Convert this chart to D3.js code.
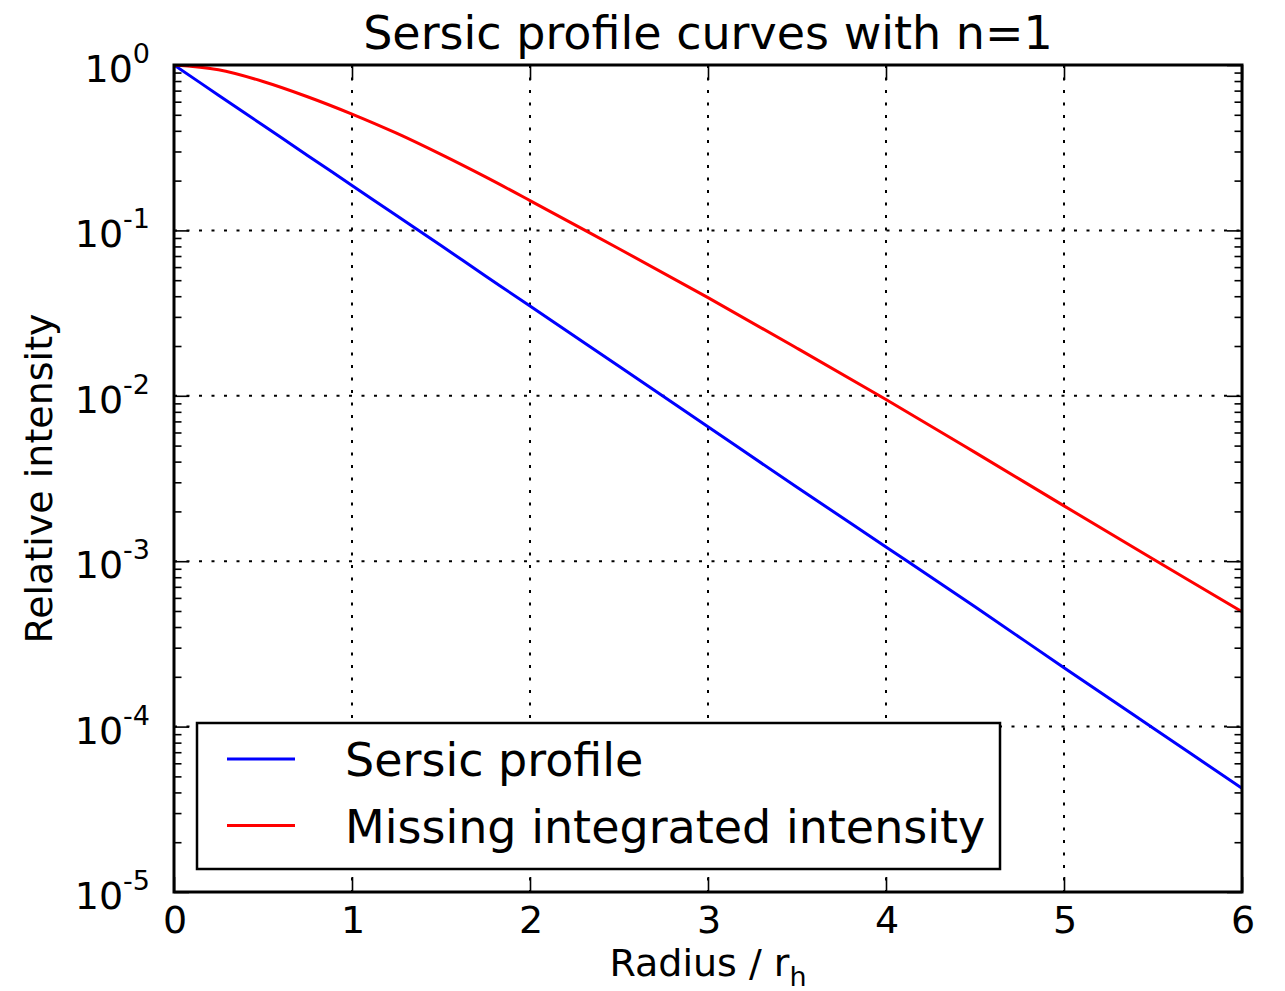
<!DOCTYPE html>
<html>
<head>
<meta charset="utf-8">
<script src="https://cdn.jsdelivr.net/npm/d3@7"></script>
<style>
  body { margin: 0; background: #fff; }
  svg { font-family: "DejaVu Sans", sans-serif; }
</style>
</head>
<body>
<div id="chart-area"></div>
<script>
// values
var radius = [0, 0.25, 0.5, 0.75, 1, 1.25, 1.5, 1.75, 2, 2.5, 3, 3.5, 4, 4.5, 5, 5.5, 6];
var sersic = [1, 0.657, 0.432, 0.284, 0.187, 0.123, 0.081, 0.053, 0.0349, 0.0151, 0.0065, 0.0028, 0.00122, 0.00053, 0.000227, 0.000098, 0.0000424];
var missing = [1, 0.935, 0.795, 0.643, 0.505, 0.387, 0.288, 0.2105, 0.1515, 0.0775, 0.0392, 0.0194, 0.0095, 0.00455, 0.00216, 0.00103, 0.000495];

var xTicks = [0, 1, 2, 3, 4, 5, 6];
var yExponents = [0, -1, -2, -3, -4, -5];
var seriesNames = ["Sersic profile", "Missing integrated intensity"];
var seriesColors = ["#0000ff", "#ff0000"];

var margin = { top: 65, right: 43, bottom: 99, left: 174 };
var width = 1068;
var height = 827;

var svg = d3.select("#chart-area")
  .append("svg")
  .attr("width", 1285)
  .attr("height", 991);

var g = svg.append("g")
  .attr("transform", `translate(${margin.left}, ${margin.top})`);

var x = d3.scaleLinear().domain([0, 6]).range([0, width]);
var y = d3.scaleLog().domain([1e-5, 1]).range([height, 0]);

var majorY = yExponents.map((e) => { return Math.pow(10, e); });
var minorY = y.ticks().filter((d) => {
  var l = Math.log10(d);
  return Math.abs(l - Math.round(l)) > 1e-6;
});

g.append("defs").append("clipPath")
  .attr("id", "plot-clip")
  .append("rect")
  .attr("width", width)
  .attr("height", height);

// grid
g.selectAll(".xgrid")
  .data(xTicks.slice(1, -1))
  .enter().append("line")
  .attr("class", "xgrid")
  .attr("x1", (d) => { return x(d); })
  .attr("x2", (d) => { return x(d); })
  .attr("y1", 0)
  .attr("y2", height)
  .attr("stroke", "#000")
  .attr("stroke-width", 2)
  .attr("stroke-dasharray", "3,9.5");

g.selectAll(".ygrid")
  .data(majorY.slice(1, -1))
  .enter().append("line")
  .attr("class", "ygrid")
  .attr("x1", 0)
  .attr("x2", width)
  .attr("y1", (d) => { return y(d); })
  .attr("y2", (d) => { return y(d); })
  .attr("stroke", "#000")
  .attr("stroke-width", 2)
  .attr("stroke-dasharray", "3,9.5");

// curves
var line = d3.line()
  .x((d) => { return x(d[0]); })
  .y((d) => { return y(d[1]); })
  .curve(d3.curveCatmullRom.alpha(0.5));

[sersic, missing].forEach((vals, i) => {
  g.append("path")
    .datum(radius.map((r, j) => { return [r, vals[j]]; }))
    .attr("clip-path", "url(#plot-clip)")
    .attr("fill", "none")
    .attr("stroke", seriesColors[i])
    .attr("stroke-width", 3)
    .attr("d", line);
});

// ticks, pointing inwards on all four sides
function styleAxis(sel) {
  sel.select(".domain").remove();
  sel.selectAll(".tick line").attr("stroke", "#000").attr("stroke-width", 1.6);
  sel.selectAll(".tick text").remove();
}

g.append("g").attr("transform", `translate(0, ${height})`)
  .call(d3.axisBottom(x).tickValues(xTicks).tickSize(-15)).call(styleAxis);
g.append("g")
  .call(d3.axisTop(x).tickValues(xTicks).tickSize(-15)).call(styleAxis);
g.append("g")
  .call(d3.axisLeft(y).tickValues(majorY).tickSize(-15)).call(styleAxis);
g.append("g")
  .call(d3.axisLeft(y).tickValues(minorY).tickSize(-7.5)).call(styleAxis);
g.append("g").attr("transform", `translate(${width}, 0)`)
  .call(d3.axisRight(y).tickValues(majorY).tickSize(-15)).call(styleAxis);
g.append("g").attr("transform", `translate(${width}, 0)`)
  .call(d3.axisRight(y).tickValues(minorY).tickSize(-7.5)).call(styleAxis);

// frame
g.append("rect")
  .attr("width", width)
  .attr("height", height)
  .attr("fill", "none")
  .attr("stroke", "#000")
  .attr("stroke-width", 3);

// tick labels
g.selectAll(".xlabel")
  .data(xTicks)
  .enter().append("text")
  .attr("class", "xlabel")
  .attr("x", (d) => { return x(d) + 1; })
  .attr("y", height + 41)
  .attr("text-anchor", "middle")
  .attr("font-size", "38px")
  .text((d) => { return d; });

var yLabels = g.selectAll(".ylabel")
  .data(yExponents)
  .enter().append("text")
  .attr("class", "ylabel")
  .attr("x", -24)
  .attr("y", (d) => { return y(Math.pow(10, d)) + 17; })
  .attr("text-anchor", "end")
  .attr("font-size", "38px");
yLabels.append("tspan").text("10");
yLabels.append("tspan")
  .attr("dy", -19)
  .attr("font-size", "27px")
  .text((d) => { return d === 0 ? "0" : String(d); });

// axis titles
var xTitle = svg.append("text")
  .attr("x", margin.left + width / 2)
  .attr("y", 976)
  .attr("text-anchor", "middle")
  .attr("font-size", "38px");
xTitle.append("tspan").text("Radius / r");
xTitle.append("tspan").attr("dy", 10).attr("font-size", "27px").text("h");

svg.append("text")
  .attr("transform", `translate(52, ${margin.top + height / 2}) rotate(-90)`)
  .attr("text-anchor", "middle")
  .attr("font-size", "38px")
  .text("Relative intensity");

svg.append("text")
  .attr("x", margin.left + width / 2)
  .attr("y", 49)
  .attr("text-anchor", "middle")
  .attr("font-size", "46px")
  .text("Sersic profile curves with n=1");

// legend
var legend = svg.append("g")
  .attr("transform", "translate(197, 723)");

legend.append("rect")
  .attr("width", 803)
  .attr("height", 146)
  .attr("fill", "#fff")
  .attr("stroke", "#000")
  .attr("stroke-width", 2.5);

var rows = legend.selectAll(".row")
  .data(seriesNames)
  .enter().append("g")
  .attr("class", "row")
  .attr("transform", (d, i) => { return `translate(0, ${36 + i * 66.5})`; });

rows.append("line")
  .attr("x1", 30)
  .attr("x2", 98)
  .attr("stroke", (d, i) => { return seriesColors[i]; })
  .attr("stroke-width", 3);

rows.append("text")
  .attr("x", 148)
  .attr("y", 17)
  .attr("font-size", "46px")
  .text((d) => { return d; });
</script>
</body>
</html>
